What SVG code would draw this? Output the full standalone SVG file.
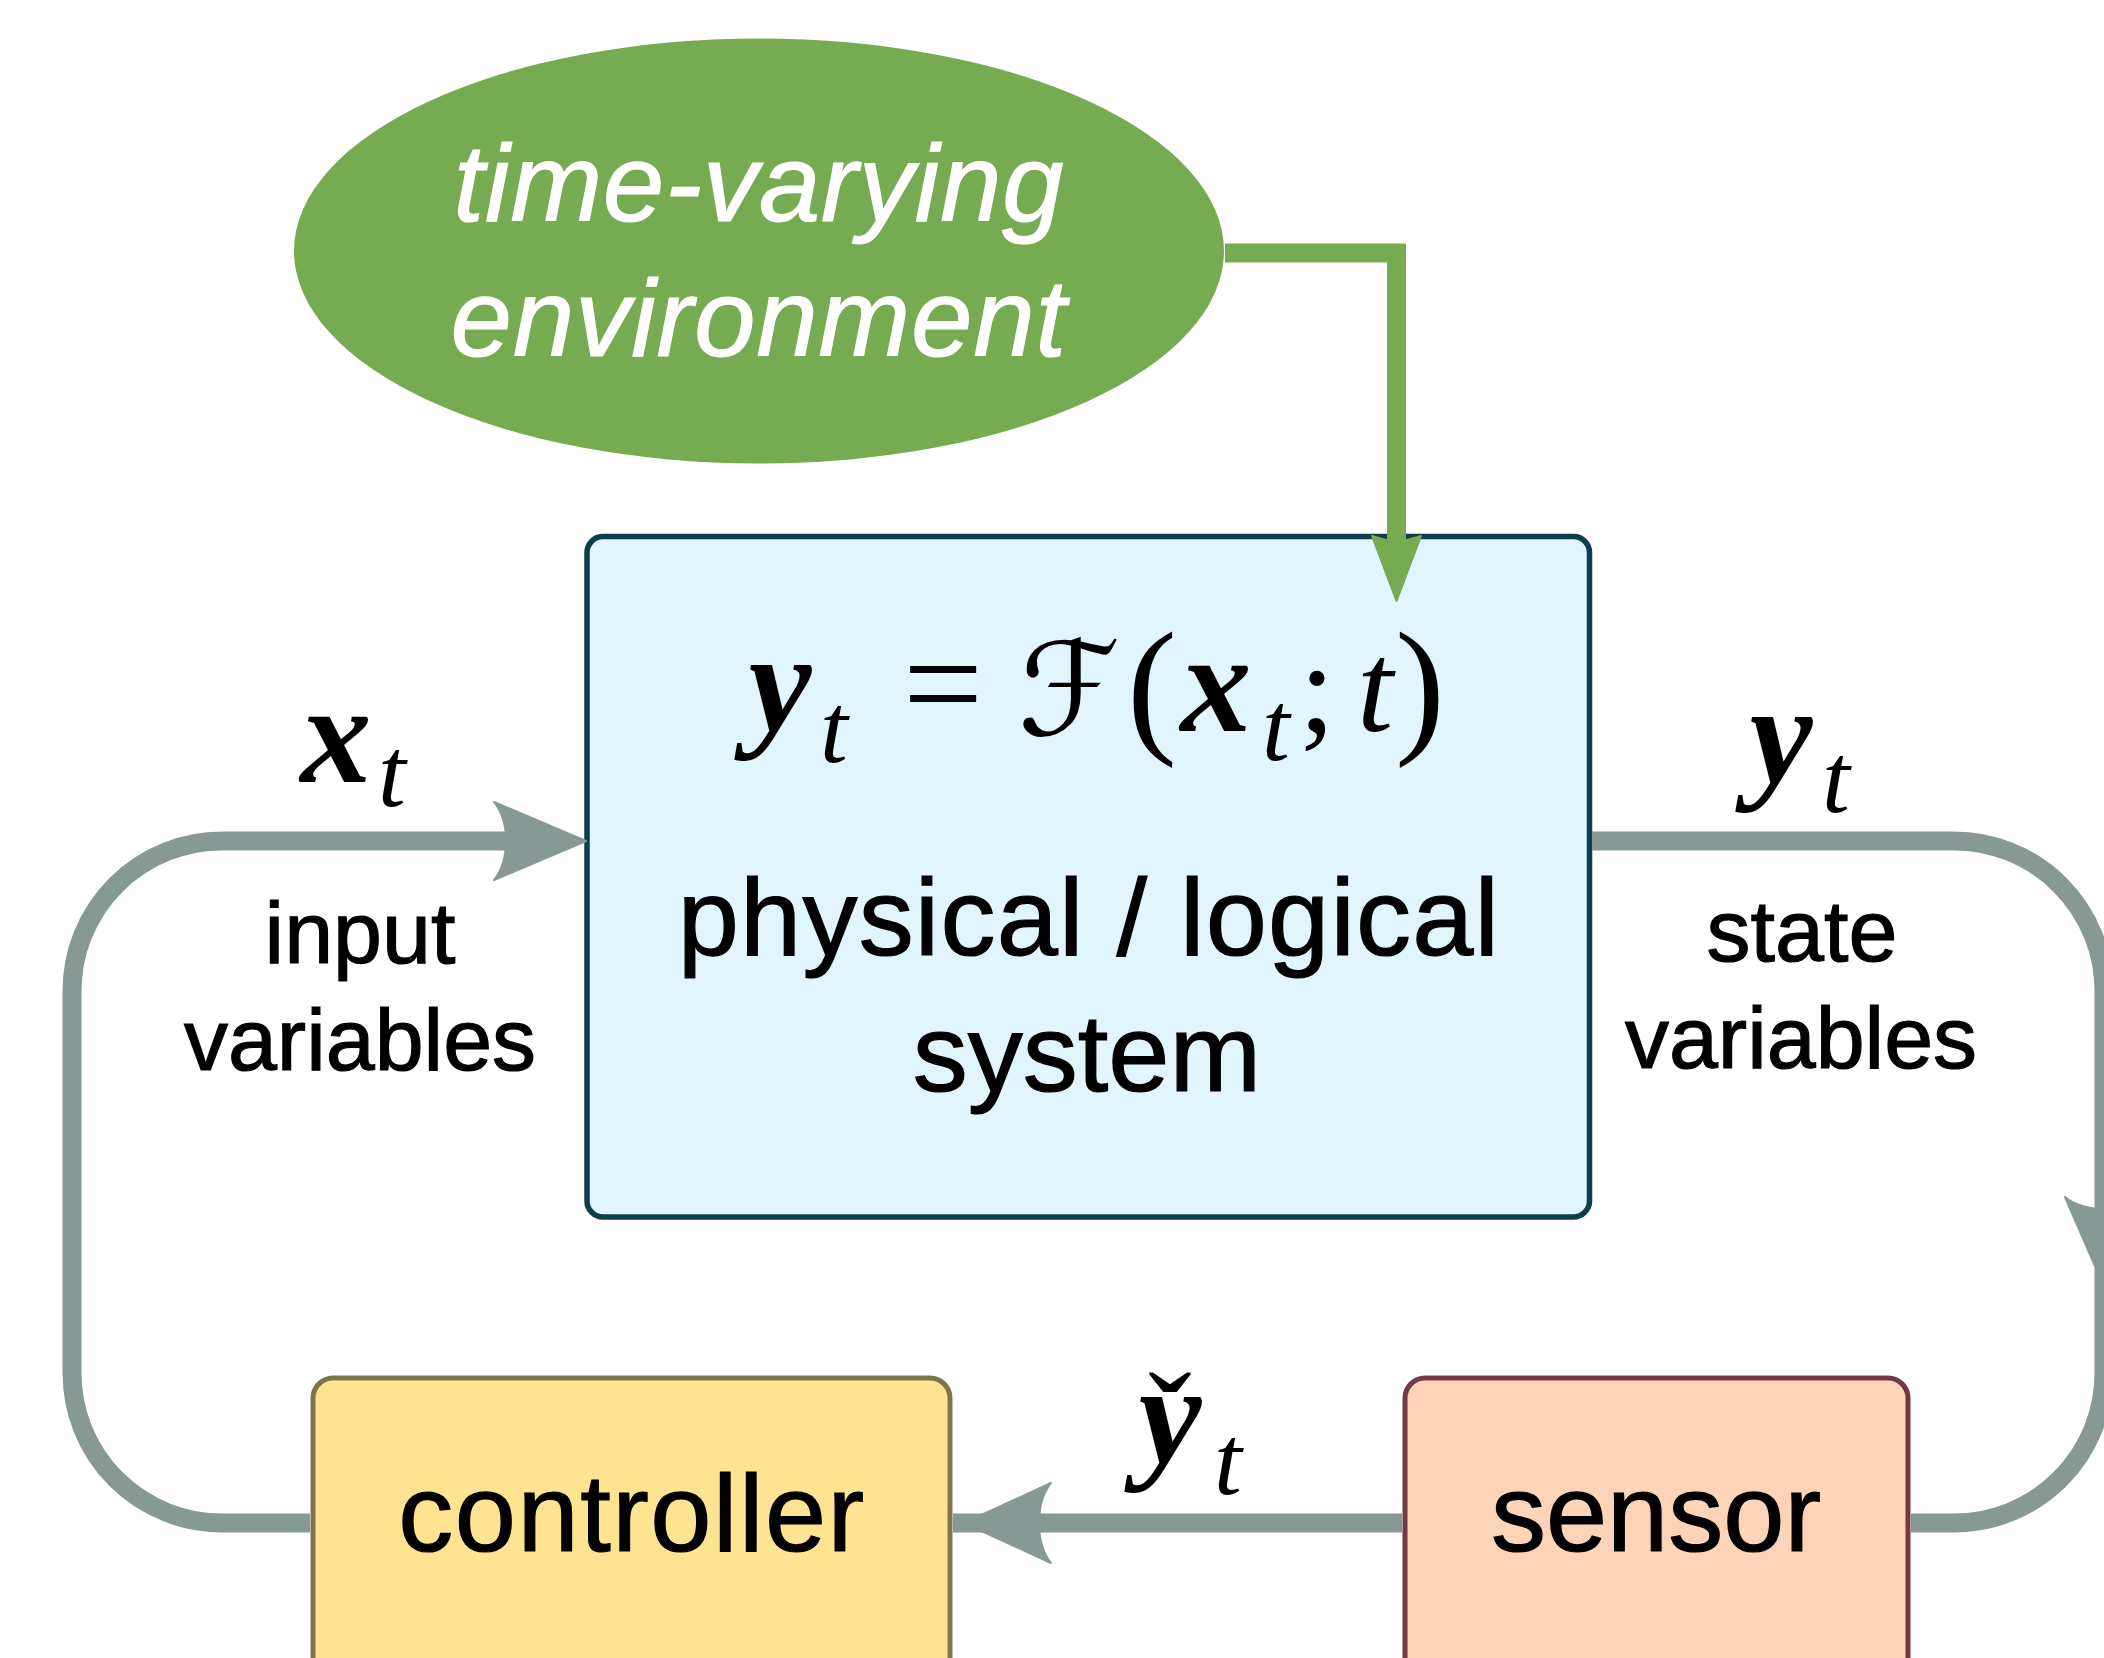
<svg xmlns="http://www.w3.org/2000/svg" width="2104" height="1658" viewBox="0 0 2104 1658">
<style>
.sans{font-family:"Liberation Sans",Arial,Helvetica,sans-serif;fill:#000;stroke:#000;stroke-width:1.2px}
.lab{font-size:88px;text-anchor:middle}
.big{font-size:110px;text-anchor:middle}
.env{font-family:"Liberation Sans",Arial,sans-serif;font-style:italic;font-size:110px;fill:#fff;stroke:#fff;stroke-width:1.2px;text-anchor:middle;letter-spacing:1px}
.mv{font-family:"Liberation Serif","Times New Roman",serif;font-style:italic;font-weight:bold;font-size:142px;fill:#000;text-anchor:middle}
.mt{font-family:"Liberation Serif","Times New Roman",serif;font-style:italic;font-size:130px;fill:#000;text-anchor:middle}
.ms{font-family:"Liberation Serif","Times New Roman",serif;font-style:italic;font-size:100px;fill:#000;text-anchor:middle}
.mr{font-family:"Liberation Serif","Times New Roman",serif;font-size:130px;fill:#000;text-anchor:middle}
.gl{fill:none;stroke:#869995;stroke-width:19}
.gh{fill:#869995;stroke:#869995;stroke-width:2;stroke-linejoin:round}
</style>
<g id="environment">
<ellipse cx="759" cy="251" rx="465" ry="212.5" fill="#76AB52"/>
<text class="env" x="759" y="221">time-varying</text>
<text class="env" x="759" y="356">environment</text>
</g>
<g id="system">
<rect x="587" y="536.5" width="1002.5" height="680.5" rx="16" fill="#E0F5FE" stroke="#0E3D4D" stroke-width="5.5"/>
<text class="mv" x="780" y="731">y</text>
<text class="ms" x="834" y="762">t</text>
<text class="mr" x="943" y="731" style="font-size:142px">=</text>
<text class="mt" x="1069" y="735" style="font-family:'DejaVu Serif','DejaVu Sans',serif;font-style:normal">ℱ</text>
<text class="mr" x="1152" y="736" style="font-size:150px">(</text>
<text class="mv" x="1216" y="731">x</text>
<text class="ms" x="1276" y="760">t</text>
<text class="mr" x="1317" y="731">;</text>
<text class="mt" x="1375" y="731">t</text>
<text class="mr" x="1420" y="736" style="font-size:150px">)</text>
<text class="sans big" x="1089" y="955" style="letter-spacing:1.2px">physical / logical</text>
<text class="sans big" x="1087" y="1091">system</text>
</g>
<g id="controller">
<rect x="313" y="1378" width="637" height="340" rx="20" fill="#FEE491" stroke="#7F7449" stroke-width="5"/>
<text class="sans big" x="632" y="1551" style="letter-spacing:1.5px">controller</text>
</g>
<g id="sensor">
<rect x="1405" y="1378" width="503" height="340" rx="20" fill="#FED4B8" stroke="#6F3A43" stroke-width="5"/>
<text class="sans big" x="1656" y="1551">sensor</text>
</g>
<g id="connectors">
<path d="M1225,253 H1396.5 V546" fill="none" stroke="#76AB52" stroke-width="19" stroke-linejoin="miter"/>
<path d="M1396.5,601 L1372,536 L1396.5,543 L1421,536 Z" fill="#76AB52" stroke="#76AB52" stroke-width="2" stroke-linejoin="round"/>
<path class="gl" d="M310,1523 H222 A150,150 0 0 1 72,1373 V991 A150,150 0 0 1 222,841 H506"/>
<path class="gh" d="M586,841 L494,802 C502,812 506,826 506,841 C506,856 502,870 494,880 Z"/>
<path class="gl" d="M1592,841 H1954 A150,150 0 0 1 2104,991 V1373 A150,150 0 0 1 1954,1523 H1911"/>
<path class="gh" d="M2104,1287 L2065,1197 C2075,1205 2090,1209 2104,1209 C2118,1209 2133,1205 2143,1197 Z"/>
<path class="gl" d="M1402,1523 H953"/>
<path class="gh" d="M964,1523 L1051,1483 C1043,1493 1039,1508 1039,1523 C1039,1538 1043,1553 1051,1563 Z"/>
</g>
<g id="labels">
<text class="mv" x="336" y="782">x</text>
<text class="ms" x="392" y="806">t</text>
<text class="sans lab" x="360" y="963">input</text>
<text class="sans lab" x="360" y="1070">variables</text>
<text class="mv" x="1781" y="783">y</text>
<text class="ms" x="1836" y="812">t</text>
<text class="sans lab" x="1802" y="961">state</text>
<text class="sans lab" x="1801" y="1068">variables</text>
<text class="mv" x="1170" y="1463">y</text>
<text class="mr" x="1170" y="1463">ˇ</text>
<text class="ms" x="1228" y="1494">t</text>
</g>
</svg>
